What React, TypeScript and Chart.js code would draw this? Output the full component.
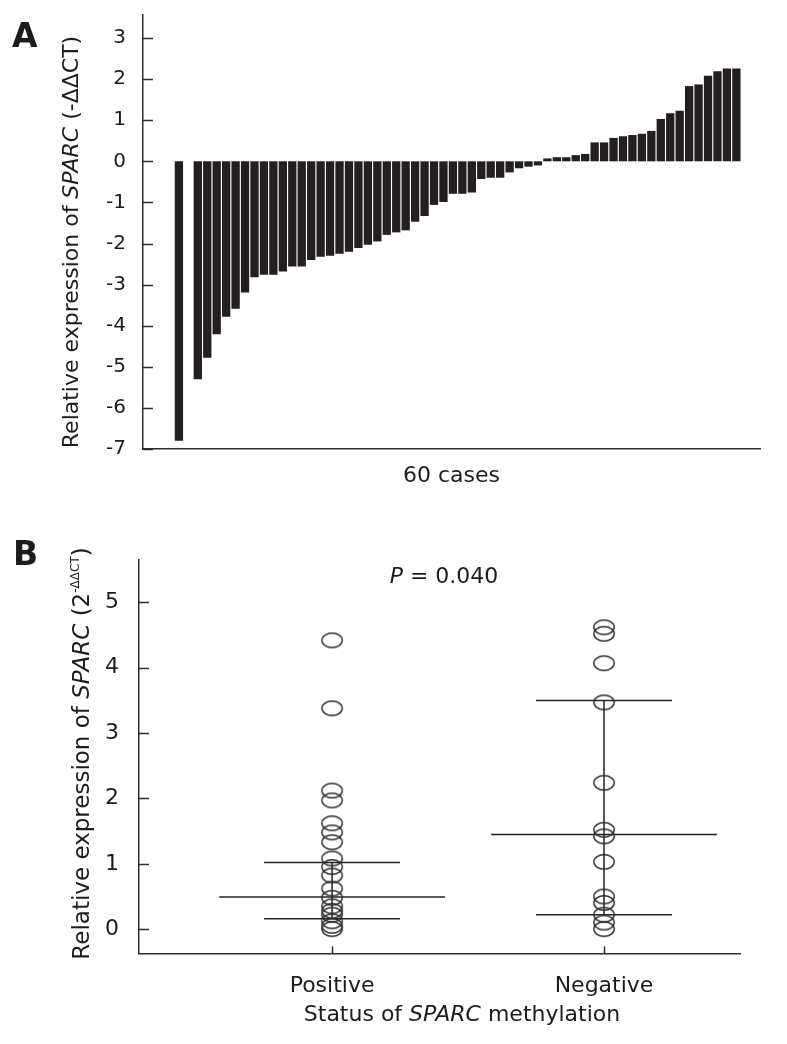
import React, { useEffect, useRef } from 'react';
import { Chart, registerables } from 'chart.js';

Chart.register(...registerables);

// ---------- Panel A data ----------
const caseValues = [
  -6.8, 0, -5.3, -4.78, -4.21, -3.78, -3.59, -3.19, -2.82, -2.76,
  -2.76, -2.68, -2.56, -2.56, -2.4, -2.32, -2.3, -2.25, -2.2, -2.11,
  -2.03, -1.95, -1.79, -1.73, -1.68, -1.47, -1.33, -1.06, -0.99, -0.79,
  -0.79, -0.76, -0.43, -0.4, -0.4, -0.27, -0.17, -0.13, -0.1, 0.07,
  0.1, 0.1, 0.15, 0.18, 0.46, 0.46, 0.57, 0.61, 0.64, 0.67,
  0.74, 1.03, 1.17, 1.23, 1.83, 1.87, 2.08, 2.19, 2.26, 2.26,
];
const yTicksA = [-7, -6, -5, -4, -3, -2, -1, 0, 1, 2, 3];

// ---------- Panel B data ----------
const groupLabels = ['Positive', 'Negative'];
const positiveValues = [4.42, 3.38, 2.12, 1.97, 1.62, 1.48, 1.33, 1.08, 0.95, 0.82, 0.62, 0.48, 0.35, 0.28, 0.22, 0.12, 0.05, 0.0];
const negativeValues = [4.62, 4.52, 4.07, 3.47, 2.24, 1.52, 1.42, 1.03, 0.5, 0.4, 0.22, 0.1, 0.0];
const groupMedians = [0.49, 1.45];
const groupQ1 = [0.16, 0.22];
const groupQ3 = [1.02, 3.5];
const yTicksB = [0, 1, 2, 3, 4, 5];

const SANS = '"DejaVu Sans", Verdana, sans-serif';
const TEXT = '#1c1c1c';
const AXIS = '#2e2e2e';
const BAR = '#231f20';

type Run = { text: string; size: number; italic?: boolean; bold?: boolean; rise?: number };
type Label = { x: number; y: number; rotate?: boolean; align?: 'left' | 'center'; runs: Run[] };

const fontOf = (r: Run) => `${r.italic ? 'italic ' : ''}${r.bold ? 'bold ' : ''}${r.size}px ${SANS}`;

function makeTextPlugin(id: string, labels: Label[]) {
  return {
    id,
    afterDraw(chart: any) {
      const ctx = chart.ctx;
      labels.forEach((lab) => {
        ctx.save();
        ctx.fillStyle = TEXT;
        ctx.textBaseline = 'alphabetic';
        ctx.textAlign = 'left';
        let total = 0;
        lab.runs.forEach((r) => {
          ctx.font = fontOf(r);
          total += ctx.measureText(r.text).width;
        });
        ctx.translate(lab.x, lab.y);
        if (lab.rotate) ctx.rotate(-Math.PI / 2);
        let cx = lab.align === 'left' ? 0 : -total / 2;
        lab.runs.forEach((r) => {
          ctx.font = fontOf(r);
          ctx.fillText(r.text, cx, -(r.rise || 0));
          cx += ctx.measureText(r.text).width;
        });
        ctx.restore();
      });
    },
  };
}

function makeInsideTicks(id: string, yLen: number, xLen: number) {
  return {
    id,
    afterDraw(chart: any) {
      const ctx = chart.ctx;
      ctx.save();
      ctx.strokeStyle = AXIS;
      ctx.lineWidth = 1.5;
      const ys = chart.scales.y;
      if (yLen) {
        ys.ticks.forEach((t: any) => {
          const p = Math.round(ys.getPixelForValue(t.value)) + 0.5;
          ctx.beginPath();
          ctx.moveTo(ys.right, p);
          ctx.lineTo(ys.right + yLen, p);
          ctx.stroke();
        });
      }
      const xs = chart.scales.x;
      if (xLen) {
        xs.ticks.forEach((t: any) => {
          const p = Math.round(xs.getPixelForValue(t.value)) + 0.5;
          ctx.beginPath();
          ctx.moveTo(p, xs.top);
          ctx.lineTo(p, xs.top - xLen);
          ctx.stroke();
        });
      }
      ctx.restore();
    },
  };
}

function makeEllipse() {
  const c = document.createElement('canvas');
  c.width = 24;
  c.height = 18;
  const g = c.getContext('2d')!;
  g.strokeStyle = '#2f2f2f';
  g.lineWidth = 1.4;
  g.beginPath();
  g.ellipse(12, 9, 10.2, 7.2, 0, 0, Math.PI * 2);
  g.stroke();
  return c;
}

const noVertPad = (s: any) => { s.paddingTop = 0; s.paddingBottom = 0; };
const noHorzPad = (s: any) => { s.paddingLeft = 0; s.paddingRight = 0; };

export default function App() {
  const aRef = useRef<HTMLCanvasElement>(null);
  const bRef = useRef<HTMLCanvasElement>(null);

  useEffect(() => {
    const labelsA: Label[] = [
      { x: 12, y: 47, align: 'left', runs: [{ text: 'A', size: 33, bold: true }] },
      {
        x: 78, y: 242, rotate: true,
        runs: [
          { text: 'Relative expression of ', size: 22 },
          { text: 'SPARC', size: 22, italic: true },
          { text: ' (-ΔΔCT)', size: 22 },
        ],
      },
      { x: 451.5, y: 482, runs: [{ text: '60 cases', size: 22 }] },
    ];

    const chartA = new Chart(aRef.current!, {
      type: 'bar',
      data: {
        datasets: [
          {
            data: caseValues.map((v, i) => ({ x: i, y: v })),
            backgroundColor: BAR,
            borderWidth: 0,
            barPercentage: 0.88,
            categoryPercentage: 1,
          },
        ],
      },
      options: {
        responsive: false,
        animation: false,
        events: [],
        devicePixelRatio: 1,
        layout: { padding: { top: 15, right: 27, left: 0, bottom: 0 } },
        plugins: { legend: { display: false }, tooltip: { enabled: false } },
        scales: {
          x: {
            type: 'linear',
            offset: false,
            min: -3.8,
            max: 61.5,
            ticks: { display: false },
            grid: { display: false, offset: false },
            border: { display: true, color: AXIS, width: 1.5 },
            afterFit: (s: any) => { s.height = 51; noHorzPad(s); },
          },
          y: {
            type: 'linear',
            min: -7,
            max: 3.56,
            afterBuildTicks: (s: any) => { s.ticks = yTicksA.map((v) => ({ value: v })); },
            ticks: { font: { family: SANS, size: 20 }, color: TEXT, padding: 9 },
            grid: { display: false },
            border: { display: true, color: AXIS, width: 1.5 },
            afterFit: (s: any) => { s.width = 143; noVertPad(s); },
          },
        },
      } as any,
      plugins: [makeInsideTicks('ticksA', 10, 0), makeTextPlugin('textA', labelsA)],
    });

    const ellipse = makeEllipse();
    const lineStyle = { showLine: true, pointRadius: 0, borderColor: '#222', borderWidth: 1.5, fill: false };
    const lineSets: any[] = [];
    groupLabels.forEach((_, i) => {
      lineSets.push({ ...lineStyle, data: [{ x: i - 0.415, y: groupMedians[i] }, { x: i + 0.415, y: groupMedians[i] }] });
      lineSets.push({ ...lineStyle, data: [{ x: i - 0.25, y: groupQ1[i] }, { x: i + 0.25, y: groupQ1[i] }] });
      lineSets.push({ ...lineStyle, data: [{ x: i - 0.25, y: groupQ3[i] }, { x: i + 0.25, y: groupQ3[i] }] });
      lineSets.push({ ...lineStyle, data: [{ x: i, y: groupQ1[i] }, { x: i, y: groupQ3[i] }] });
    });

    const labelsB: Label[] = [
      { x: 13, y: 65, align: 'left', runs: [{ text: 'B', size: 33, bold: true }] },
      {
        x: 89, y: 253.5, rotate: true,
        runs: [
          { text: 'Relative expression of ', size: 23 },
          { text: 'SPARC', size: 23, italic: true },
          { text: ' (2', size: 23 },
          { text: '-ΔΔCT', size: 12, rise: 10 },
          { text: ')', size: 23 },
        ],
      },
      {
        x: 444, y: 83,
        runs: [
          { text: 'P', size: 22, italic: true },
          { text: ' = 0.040', size: 22 },
        ],
      },
      {
        x: 462, y: 521,
        runs: [
          { text: 'Status of ', size: 22 },
          { text: 'SPARC', size: 22, italic: true },
          { text: ' methylation', size: 22 },
        ],
      },
    ];

    const chartB = new Chart(bRef.current!, {
      type: 'scatter',
      data: {
        datasets: [
          { data: positiveValues.map((v) => ({ x: 0, y: v })), pointStyle: ellipse, pointRadius: 10 },
          { data: negativeValues.map((v) => ({ x: 1, y: v })), pointStyle: ellipse, pointRadius: 10 },
          ...lineSets,
        ],
      },
      options: {
        responsive: false,
        animation: false,
        events: [],
        devicePixelRatio: 1,
        layout: { padding: { top: 59.3, right: 47, left: 0, bottom: 0 } },
        plugins: { legend: { display: false }, tooltip: { enabled: false } },
        scales: {
          x: {
            type: 'linear',
            min: -0.71,
            max: 1.5,
            afterBuildTicks: (s: any) => { s.ticks = groupLabels.map((_, i) => ({ value: i })); },
            ticks: {
              font: { family: SANS, size: 22 },
              color: TEXT,
              padding: 12,
              callback: (v: any) => groupLabels[v] ?? '',
            },
            grid: { display: false },
            border: { display: true, color: AXIS, width: 1.5 },
            afterFit: (s: any) => { s.height = 90.7; noHorzPad(s); },
          },
          y: {
            type: 'linear',
            min: -0.37,
            max: 5.66,
            afterBuildTicks: (s: any) => { s.ticks = yTicksB.map((v) => ({ value: v })); },
            ticks: { font: { family: SANS, size: 22 }, color: TEXT, padding: 12 },
            grid: { display: false },
            border: { display: true, color: AXIS, width: 1.5 },
            afterFit: (s: any) => { s.width = 139; noVertPad(s); },
          },
        },
      } as any,
      plugins: [makeInsideTicks('ticksB', 10, 7), makeTextPlugin('textB', labelsB)],
    });

    return () => {
      chartA.destroy();
      chartB.destroy();
    };
  }, []);

  return (
    <div style={{ position: 'absolute', left: 0, top: 0, width: 787, height: 1044, background: '#fff' }}>
      <canvas ref={aRef} width={787} height={500} style={{ position: 'absolute', left: 0, top: 0 }} />
      <canvas ref={bRef} width={787} height={544} style={{ position: 'absolute', left: 0, top: 500 }} />
    </div>
  );
}
